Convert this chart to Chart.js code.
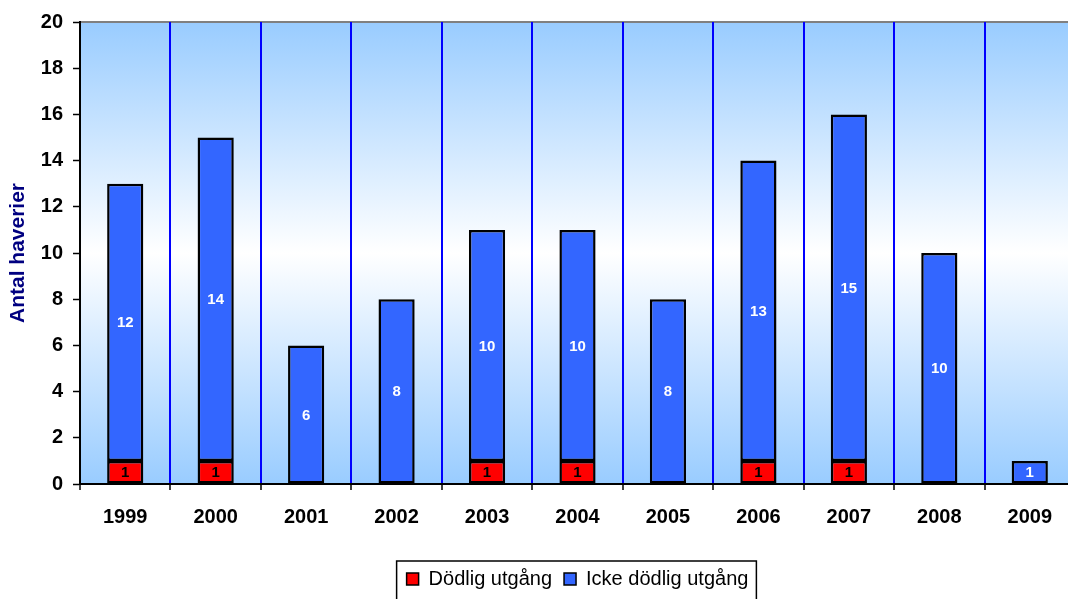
<!DOCTYPE html>
<html>
<head>
<meta charset="utf-8">
<script src="https://cdn.jsdelivr.net/npm/chart.js@4/dist/chart.umd.min.js"></script>
<style>
  html, body { margin: 0; padding: 0; background: #ffffff; overflow: hidden; }
  #wrap { width: 1075px; height: 599px; }
</style>
</head>
<body>
<div id="wrap"><canvas id="c" width="1075" height="599"></canvas></div>
<script>
// Haverier per år, uppdelat på utgång
const years = ['1999', '2000', '2001', '2002', '2003', '2004', '2005', '2006', '2007', '2008', '2009'];
const dodlig = [1, 1, 0, 0, 1, 1, 0, 1, 1, 0, 0];
const ickeDodlig = [12, 14, 6, 8, 10, 10, 8, 13, 15, 10, 1];
const yTicks = [0, 2, 4, 6, 8, 10, 12, 14, 16, 18, 20];

const FONT = "'Liberation Sans', Arial, sans-serif";

// Plot background: blue at top and bottom, fading to white in the middle
const backgroundPlugin = {
  id: 'plotBackground',
  beforeDraw(chart) {
    const { ctx, chartArea: a } = chart;
    const g = ctx.createLinearGradient(0, a.top, 0, a.bottom);
    g.addColorStop(0, '#99CCFF');
    g.addColorStop(0.5, '#FFFFFF');
    g.addColorStop(1, '#99CCFF');
    ctx.save();
    ctx.fillStyle = g;
    ctx.fillRect(a.left, a.top, a.right - a.left, a.bottom - a.top);
    ctx.strokeStyle = '#808080';
    ctx.lineWidth = 2;
    ctx.beginPath();
    ctx.moveTo(a.left, a.top);
    ctx.lineTo(a.right, a.top);
    ctx.stroke();
    ctx.restore();
  }
};

// Value labels centred inside each bar segment
const valueLabelPlugin = {
  id: 'valueLabels',
  afterDatasetsDraw(chart) {
    const { ctx } = chart;
    ctx.save();
    ctx.font = 'bold 15px ' + FONT;
    ctx.textAlign = 'center';
    ctx.textBaseline = 'middle';
    chart.data.datasets.forEach((ds, di) => {
      const meta = chart.getDatasetMeta(di);
      meta.data.forEach((bar, i) => {
        const v = ds.data[i];
        if (!v) return;
        ctx.fillStyle = ds.labelColor;
        ctx.fillText(String(v), bar.x, (bar.y + bar.base) / 2 + 1);
      });
    });
    ctx.restore();
  }
};

// Frame around the legend
const legendFramePlugin = {
  id: 'legendFrame',
  afterDraw(chart) {
    const lg = chart.legend;
    if (!lg || !lg.legendHitBoxes || !lg.legendHitBoxes.length) return;
    const boxes = lg.legendHitBoxes;
    const left = boxes[0].left - 10;
    const right = boxes[boxes.length - 1].left + boxes[boxes.length - 1].width + 8;
    const midY = boxes[0].top + boxes[0].height / 2;
    const { ctx } = chart;
    ctx.save();
    ctx.strokeStyle = '#000000';
    ctx.lineWidth = 1.5;
    ctx.strokeRect(left, midY - 18, right - left, 40);
    ctx.restore();
  }
};

new Chart(document.getElementById('c'), {
  type: 'bar',
  data: {
    labels: years,
    datasets: [
      {
        label: 'Dödlig utgång',
        data: dodlig,
        backgroundColor: '#FF0000',
        borderColor: '#000000',
        borderWidth: ctx => (ctx.raw ? 2.5 : 0),
        borderSkipped: false,
        barPercentage: 0.4,
        categoryPercentage: 1.0,
        labelColor: '#000000'
      },
      {
        label: 'Icke dödlig utgång',
        data: ickeDodlig,
        backgroundColor: '#3366FF',
        borderColor: '#000000',
        borderWidth: 2.5,
        borderSkipped: false,
        barPercentage: 0.4,
        categoryPercentage: 1.0,
        labelColor: '#FFFFFF'
      }
    ]
  },
  options: {
    responsive: false,
    devicePixelRatio: 1,
    animation: false,
    layout: { padding: { top: 21, left: 0, right: 0, bottom: 0 } },
    plugins: {
      tooltip: { enabled: false },
      legend: {
        position: 'bottom',
        fullSize: false,
        labels: {
          font: { family: FONT, size: 20 },
          color: '#000000',
          boxWidth: 12,
          boxHeight: 12,
          padding: 12,
          generateLabels(chart) {
            return chart.data.datasets.map((ds, i) => ({
              text: ds.label,
              fillStyle: ds.backgroundColor,
              strokeStyle: '#000000',
              lineWidth: 1.5,
              hidden: false,
              datasetIndex: i,
              fontColor: '#000000'
            }));
          }
        }
      }
    },
    scales: {
      x: {
        stacked: true,
        offset: true,
        afterFit(scale) { scale.height = 73; },
        grid: {
          offset: true,
          drawOnChartArea: true,
          color: ctx => (ctx.index === 0 ? 'rgba(0,0,0,0)' : '#0000FF'),
          lineWidth: 2,
          tickLength: 6,
          tickColor: '#000000',
          tickWidth: 1.5
        },
        border: { display: true, color: '#000000', width: 2 },
        ticks: {
          font: { family: FONT, size: 20, weight: 'bold' },
          color: '#000000',
          padding: 15,
          maxRotation: 0
        }
      },
      y: {
        stacked: true,
        min: 0,
        max: 20,
        afterFit(scale) { scale.width = 80; },
        afterBuildTicks(scale) { scale.ticks = yTicks.map(v => ({ value: v })); },
        grid: {
          drawOnChartArea: false,
          drawTicks: true,
          tickLength: 7,
          tickColor: '#000000',
          tickWidth: 1.5
        },
        border: { display: true, color: '#000000', width: 2 },
        ticks: {
          font: { family: FONT, size: 20, weight: 'bold' },
          color: '#000000',
          padding: 10
        },
        title: {
          display: true,
          text: 'Antal haverier',
          color: '#000080',
          font: { family: FONT, size: 21, weight: 'bold' },
          padding: { top: 6, bottom: 0 }
        }
      }
    }
  },
  plugins: [backgroundPlugin, valueLabelPlugin, legendFramePlugin]
});
</script>
</body>
</html>
